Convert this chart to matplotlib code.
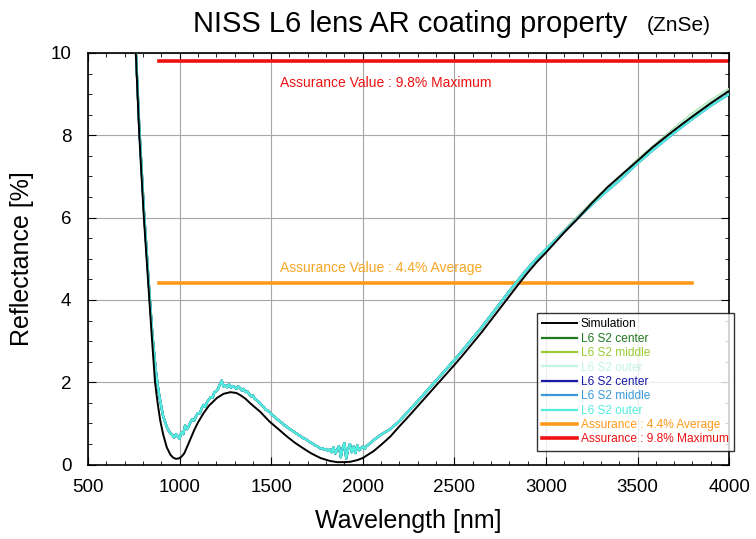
import matplotlib
matplotlib.use("Agg")
import matplotlib.pyplot as plt
from matplotlib.ticker import MultipleLocator

plt.rcParams['font.family'] = ['Liberation Sans', 'DejaVu Sans']

# ---------------- data ----------------
sim_wl = [740, 750, 760, 780, 805, 835, 850, 866, 880, 894, 910, 930, 950, 965, 980,
          995, 1010, 1025, 1040, 1060, 1080, 1100, 1131, 1160, 1204, 1240, 1277, 1310,
          1331, 1360, 1386, 1420, 1441, 1490, 1540, 1587, 1630, 1677, 1720, 1769, 1820,
          1860, 1900, 1933, 1970, 2000, 2060, 2100, 2150, 2200, 2250, 2300, 2350, 2400,
          2450, 2500, 2550, 2600, 2650, 2700, 2750, 2800, 2850, 2900, 2950, 3000, 3100,
          3172, 3250, 3336, 3420, 3500, 3580, 3664, 3740, 3810, 3900, 4000]
sim_r = [11.8, 11.0, 10.1, 8.0, 6.0, 4.0, 3.0, 2.0, 1.5, 1.08, 0.74, 0.42, 0.24, 0.17, 0.14,
         0.15, 0.19, 0.27, 0.42, 0.63, 0.84, 1.02, 1.25, 1.43, 1.62, 1.72, 1.76, 1.74,
         1.69, 1.60, 1.49, 1.36, 1.28, 1.05, 0.86, 0.68, 0.53, 0.39, 0.27, 0.16, 0.09,
         0.06, 0.06, 0.07, 0.11, 0.16, 0.33, 0.48, 0.68, 0.93, 1.17, 1.42, 1.67, 1.92,
         2.17, 2.42, 2.68, 2.95, 3.22, 3.51, 3.80, 4.09, 4.38, 4.66, 4.92, 5.15, 5.64,
         5.97, 6.35, 6.74, 7.07, 7.38, 7.70, 8.00, 8.26, 8.49, 8.78, 9.08]

meas_wl = [740, 750, 760, 780, 805, 835,
           850, 860, 870, 880, 890, 900, 910, 920, 930, 940, 950, 960, 970, 980, 990,
           1000, 1010, 1020, 1030, 1040, 1050, 1060, 1070, 1080, 1090, 1100, 1110, 1120,
           1130, 1140, 1150, 1160, 1170, 1180, 1190, 1200, 1210, 1220, 1230, 1240, 1250,
           1260, 1270, 1280, 1290, 1300, 1310, 1320, 1330, 1340, 1350, 1360, 1370, 1380,
           1390, 1400, 1410, 1420, 1430, 1440, 1450, 1460, 1470, 1480, 1490, 1500, 1510,
           1520, 1530, 1540, 1550, 1560, 1570, 1580, 1590, 1600, 1610, 1620, 1630, 1640,
           1650, 1660, 1670, 1680, 1690, 1700, 1710, 1720, 1730, 1740, 1750, 1760, 1770,
           1780, 1790, 1800, 1810, 1820, 1830, 1840, 1850, 1860, 1870, 1880, 1890, 1900,
           1910, 1920, 1930, 1940, 1950, 1960, 1970, 1980, 1990, 2000, 2010, 2020, 2030,
           2040, 2050, 2060, 2070, 2080, 2090, 2100,
           2150, 2200, 2250, 2300, 2350, 2400, 2450, 2500, 2550, 2600, 2650, 2700, 2750,
           2800, 2850, 2900, 2950, 3000, 3100, 3200, 3300, 3400, 3500, 3600, 3700, 3800,
           3900, 4000]
meas_common = [11.9, 11.1, 10.2, 8.2, 6.2, 4.2,
               3.25, 2.76, 2.30, 1.94, 1.66, 1.41, 1.18, 1.05, 0.92, 0.83, 0.76, 0.72,
               0.66, 0.74, 0.68, 0.63, 0.79, 0.74, 0.95, 0.86, 0.93, 1.04, 1.10, 1.07,
               1.18, 1.25, 1.24, 1.36, 1.45, 1.40, 1.52, 1.58, 1.64, 1.62, 1.76, 1.78,
               1.84, 1.95, 2.04, 1.90, 1.93, 1.88, 1.95, 1.87, 1.91, 1.89, 1.84, 1.90,
               1.86, 1.80, 1.84, 1.76, 1.78, 1.71, 1.66, 1.68, 1.60, 1.57, 1.53, 1.49,
               1.43, 1.40, 1.33, 1.32, 1.28, 1.23, 1.19, 1.16, 1.11, 1.08, 1.04, 1.01,
               0.96, 0.94, 0.90, 0.87, 0.84, 0.81, 0.78, 0.75, 0.72, 0.70, 0.66, 0.63,
               0.62, 0.58, 0.55, 0.53, 0.50, 0.46, 0.45, 0.42, 0.39, 0.40, 0.36, 0.38,
               0.33, 0.37, 0.30, 0.42, 0.27, 0.36, 0.45, 0.18, 0.40, 0.52, 0.15, 0.38,
               0.50, 0.30, 0.44, 0.28, 0.47, 0.35, 0.40, 0.44, 0.38, 0.45, 0.48, 0.52,
               0.55, 0.60, 0.63, 0.66, 0.70, 0.73,
               0.86, 1.06, 1.30, 1.54, 1.79, 2.04, 2.29, 2.54, 2.80, 3.07, 3.34, 3.63,
               3.92, 4.21, 4.49, 4.76, 5.01, 5.23]
meas_green_tail = [5.68, 6.14, 6.57, 6.96, 7.40, 7.78, 8.16, 8.52, 8.84, 9.12]
meas_blue_tail = [5.66, 6.10, 6.52, 6.90, 7.32, 7.70, 8.06, 8.40, 8.72, 9.00]

meas_green = meas_common + meas_green_tail
meas_blue = meas_common + meas_blue_tail

avg_value = 4.4
max_value = 9.8
avg_range = [890, 3800]
max_range = [890, 4000]

series_names = ["L6 S2 center", "L6 S2 middle", "L6 S2 outer",
                "L6 S2 center", "L6 S2 middle", "L6 S2 outer"]
series_colors = ["#1f7a1f", "#99cc33", "#c2f5de", "#1a1aaa", "#3a9ad9", "#52ecdc"]

# ---------------- figure ----------------
fig = plt.figure(figsize=(7.56, 5.39), dpi=100)
ax = fig.add_axes([0.1164, 0.138, 0.848, 0.7637])

ax.set_xlim(500, 4000)
ax.set_ylim(0, 10)
ax.xaxis.set_major_locator(MultipleLocator(500))
ax.xaxis.set_minor_locator(MultipleLocator(100))
ax.yaxis.set_major_locator(MultipleLocator(2))
ax.yaxis.set_minor_locator(MultipleLocator(0.5))
ax.tick_params(which='both', direction='in', top=True, right=True, labelsize=13.5)
ax.tick_params(which='major', length=6)
ax.tick_params(which='minor', length=3)
ax.tick_params(axis='x', which='major', pad=10)
ax.tick_params(axis='y', which='major', pad=12)
ax.grid(True, which='major', color='#a6a6a6', linewidth=0.8)
for s in ax.spines.values():
    s.set_linewidth(1.2)

handles = []
h, = ax.plot(sim_wl, sim_r, color='black', lw=1.4, zorder=5, label="Simulation")
handles.append(h)
for i, (name, col) in enumerate(zip(series_names, series_colors)):
    data = meas_green if i < 3 else meas_blue
    h, = ax.plot(meas_wl, data, color=col, lw=1.6, zorder=3 + i * 0.1, label=name)
    handles.append(h)

h, = ax.plot(avg_range, [avg_value, avg_value], color='#ff9a1a', lw=2.6, zorder=2,
             label="Assurance : 4.4% Average")
handles.append(h)
h, = ax.plot(max_range, [max_value, max_value], color='#ee1111', lw=2.6, zorder=2,
             label="Assurance : 9.8% Maximum")
handles.append(h)

ax.text(1550, 4.77, "Assurance Value : 4.4% Average", color='#f5a623', fontsize=10,
        va='center', ha='left')
ax.text(1550, 9.27, "Assurance Value : 9.8% Maximum", color='#ee1111', fontsize=10,
        va='center', ha='left')

ax.set_xlabel("Wavelength [nm]", fontsize=18, labelpad=10)
ax.set_ylabel("Reflectance [%]", fontsize=18, labelpad=12)

fig.text(0.255, 0.955, "NISS L6 lens AR coating property", fontsize=21, ha='left', va='center')
fig.text(0.855, 0.952, "(ZnSe)", fontsize=15, ha='left', va='center')

leg = fig.legend(handles=handles, loc='upper left', bbox_to_anchor=(0.7103, 0.4193),
                 fontsize=8.6, frameon=True, fancybox=False, handlelength=2.9,
                 handletextpad=0.3, labelspacing=0.2, borderpad=0.45, borderaxespad=0)
leg.get_frame().set_edgecolor('black')
leg.get_frame().set_linewidth(1.0)
for txt, hd in zip(leg.get_texts(), handles):
    txt.set_color(hd.get_color())

fig.savefig("out.png", dpi=100)
